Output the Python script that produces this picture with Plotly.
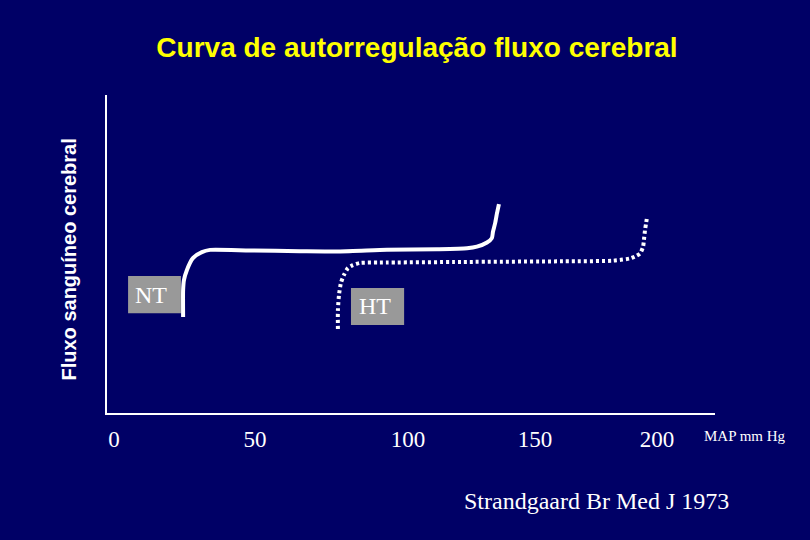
import plotly.graph_objects as go

# Data (x: MAP mm Hg, y: cerebral blood flow, arbitrary units)
nt_x = [26.1, 26.1, 26.4, 27.5, 29.7, 33.0, 36.0, 50.6, 69.0, 83.7, 100.9, 119.3,
        130.3, 133.9, 137.6, 139.4, 139.8, 140.6, 141.3, 142.0]
nt_y = [30.2, 38.7, 41.8, 45.0, 48.7, 50.6, 51.3, 51.1, 50.9, 50.8, 51.3, 51.5,
        51.8, 52.3, 53.6, 55.0, 57.0, 59.7, 62.9, 65.7]

ht_x = [82.9, 82.9, 83.3, 84.0, 85.1, 86.6, 88.4, 91.0, 98.3, 128.8, 165.5,
        183.9, 190.1, 191.9, 193.8, 194.9, 195.2, 195.6, 196.0, 196.3]
ht_y = [26.4, 32.4, 37.1, 40.9, 43.4, 45.6, 46.5, 47.2, 47.3, 47.5, 47.7,
        47.9, 48.6, 49.2, 50.2, 52.3, 54.4, 57.5, 59.7, 61.3]

tick_labels = ["0", "50", "100", "150", "200"]
tick_pos = [0.7, 52.5, 108.6, 155.2, 200.0]

series_labels = ["NT", "HT"]

BG = "#000066"
SERIF = "Liberation Serif, Times New Roman, serif"
SANS = "Liberation Sans, Arial, sans-serif"

fig = go.Figure()
fig.add_trace(go.Scatter(x=nt_x, y=nt_y, mode="lines", name=series_labels[0],
                         line=dict(color="white", width=4, shape="spline", smoothing=0.6),
                         hoverinfo="skip"))
fig.add_trace(go.Scatter(x=ht_x, y=ht_y, mode="lines", name=series_labels[1],
                         line=dict(color="white", width=4, dash="3px,3px",
                                   shape="spline", smoothing=0.6),
                         hoverinfo="skip"))

# label boxes
fig.add_shape(type="rect", x0=5.9, x1=25.3, y0=31.4, y1=43.1, xref="x", yref="y",
              fillcolor="#999999", line=dict(width=0), layer="below")
fig.add_shape(type="rect", x0=87.7, x1=107.2, y0=27.7, y1=39.3, xref="x", yref="y",
              fillcolor="#999999", line=dict(width=0), layer="below")
fig.add_annotation(x=14.3, y=37.1, xref="x", yref="y", text=series_labels[0],
                   showarrow=False, xanchor="center", yanchor="middle",
                   font=dict(family=SERIF, size=24, color="white"))
fig.add_annotation(x=96.5, y=33.5, xref="x", yref="y", text=series_labels[1],
                   showarrow=False, xanchor="center", yanchor="middle",
                   font=dict(family=SERIF, size=24, color="white"))

# y-axis title (rotated)
fig.add_annotation(x=(68 - 107) / 608, y=(413 - 259.5) / 318, xref="paper", yref="paper",
                   text="Fluxo sanguíneo cerebral", showarrow=False, textangle=-90,
                   xanchor="center", yanchor="middle",
                   font=dict(family=SANS, size=20, color="white", weight="bold"))

fig.add_annotation(x=(745 - 107) / 608, y=(413 - 436) / 318, xref="paper", yref="paper",
                   text="MAP mm Hg", showarrow=False, xanchor="center", yanchor="middle",
                   font=dict(family=SERIF, size=15, color="white"))
fig.add_annotation(x=(596 - 107) / 608, y=(413 - 501) / 318, xref="paper", yref="paper",
                   text="Strandgaard Br Med J 1973", showarrow=False,
                   xanchor="center", yanchor="middle",
                   font=dict(family=SERIF, size=24, color="white"))

fig.update_layout(
    width=810, height=540,
    paper_bgcolor=BG, plot_bgcolor=BG,
    margin=dict(l=107, r=95, t=95, b=127),
    showlegend=False,
    title=dict(text="Curva de autorregulação fluxo cerebral",
               x=417 / 810, xanchor="center", xref="container",
               y=1 - 47 / 540, yanchor="middle", yref="container",
               font=dict(family=SANS, size=28, color="#FFFF00", weight="bold")),
    xaxis=dict(range=[(107 - 112) / 2.725, (715 - 112) / 2.725],
               showgrid=False, zeroline=False, showline=True,
               linecolor="white", linewidth=2,
               tickmode="array", tickvals=tick_pos, ticktext=tick_labels,
               ticks="", ticklabelstandoff=4,
               tickfont=dict(family=SERIF, size=23, color="white")),
    yaxis=dict(range=[0, 100], showgrid=False, zeroline=False, showline=True,
               linecolor="white", linewidth=2, showticklabels=False, ticks=""),
)

fig.write_html("out.html", config={"displayModeBar": False},
               post_script="document.body.style.margin='0';document.body.style.background='" + BG + "';")
